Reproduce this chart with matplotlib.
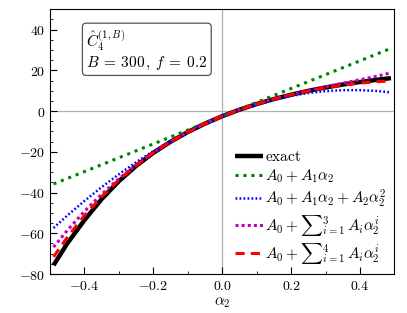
import matplotlib
matplotlib.use("Agg")
import matplotlib.pyplot as plt
from matplotlib.ticker import MultipleLocator, FuncFormatter

plt.rcParams['mathtext.fontset'] = 'cm'
plt.rcParams['font.family'] = 'serif'
plt.rcParams['font.serif'] = ['DejaVu Serif']

alpha2 = [-0.49, -0.45, -0.40, -0.35, -0.30, -0.25, -0.20, -0.15, -0.10, -0.05, 0.0,
          0.05, 0.10, 0.15, 0.20, 0.25, 0.30, 0.35, 0.40, 0.45, 0.49]
exact = [-75.7, -65.0, -53.5, -43.2, -34.4, -26.9, -20.5, -15.05, -10.29, -6.14, -2.5,
         0.69, 3.47, 5.92, 8.05, 9.95, 11.6, 13.05, 14.3, 15.4, 16.2]
order1 = [-35.8, -33.1, -29.7, -26.3, -22.9, -19.5, -16.1, -12.7, -9.3, -5.9, -2.5,
          0.9, 4.3, 7.7, 11.1, 14.5, 17.9, 21.3, 24.7, 28.1, 30.8]
order2 = [-57.4, -51.3, -44.1, -37.3, -31.0, -25.1, -19.7, -14.73, -10.2, -6.13, -2.5,
          0.68, 3.4, 5.68, 7.5, 8.88, 9.8, 10.27, 10.3, 9.87, 9.2]
order3 = [-66.8, -58.6, -49.2, -40.8, -33.2, -26.4, -20.34, -15.0, -10.28, -6.14, -2.5,
          0.69, 3.48, 5.95, 8.14, 10.13, 11.96, 13.7, 15.42, 17.16, 18.8]
order4 = [-71.6, -62.0, -51.3, -42.0, -33.8, -26.7, -20.47, -15.04, -10.29, -6.14, -2.5,
          0.69, 3.47, 5.92, 8.03, 9.88, 11.45, 12.75, 13.75, 14.45, 14.8]

labels = [r'$\mathrm{exact}$',
          r'$A_0 + A_1\alpha_2$',
          r'$A_0 + A_1\alpha_2 + A_2\alpha_2^2$',
          r'$A_0 + {\sum}_{i=1}^{3}\, A_i\alpha_2^i$',
          r'$A_0 + {\sum}_{i=1}^{4}\, A_i\alpha_2^i$']

fig = plt.figure(figsize=(4.07, 3.13), dpi=100)
ax = fig.add_axes([0.123, 0.1246, 0.846, 0.8457])

ax.axhline(0, color='#b0b0b0', lw=0.9, zorder=0)
ax.axvline(0, color='#b0b0b0', lw=0.9, zorder=0)

ax.plot(alpha2, exact, color='black', lw=3.2, solid_capstyle='butt', label=labels[0])
ax.plot(alpha2, order1, color='green', lw=2.2, ls=(0, (1, 1.6)), label=labels[1])
ax.plot(alpha2, order2, color='blue', lw=1.8, ls=(0, (0.7, 0.9)), label=labels[2])
ax.plot(alpha2, order3, color='m', lw=2.2, ls=(0, (1, 1.0)), label=labels[3])
ax.plot(alpha2, order4, color='red', lw=2.2, ls=(0, (3, 2)), label=labels[4])

ax.set_xlim(-0.5, 0.5)
ax.set_ylim(-80, 50)
ax.xaxis.set_major_locator(MultipleLocator(0.2))
ax.xaxis.set_minor_locator(MultipleLocator(0.1))
ax.yaxis.set_major_locator(MultipleLocator(20))
ax.yaxis.set_minor_locator(MultipleLocator(5))
ax.xaxis.set_major_formatter(FuncFormatter(lambda v, p: r'$%.1f$' % (0.0 if abs(v) < 1e-9 else v)))
ax.yaxis.set_major_formatter(FuncFormatter(lambda v, p: r'$%d$' % round(v)))
ax.tick_params(which='both', direction='in', top=False, right=False, labelsize=10)
ax.tick_params(which='major', length=5, width=0.8)
ax.tick_params(which='minor', length=2.5, width=0.6)

ax.set_xlabel(r'$\alpha_2$', fontsize=11, labelpad=2)

ax.text(0.105, 0.93, '$\\hat{C}_4^{(1,B)}$\n$B\\:=\\:300\\,,\\: f\\:=\\:0.2$', transform=ax.transAxes,
        fontsize=11, va='top', ha='left', linespacing=1.15,
        bbox=dict(boxstyle='round,pad=0.25', fc='white', ec='#555555', lw=0.9))

leg = ax.legend(loc='upper left', bbox_to_anchor=(0.52, 0.492), frameon=False, fontsize=11,
                handlelength=1.8, handletextpad=0.15, labelspacing=0.2, borderaxespad=0)

fig.savefig('out.png', dpi=100)
